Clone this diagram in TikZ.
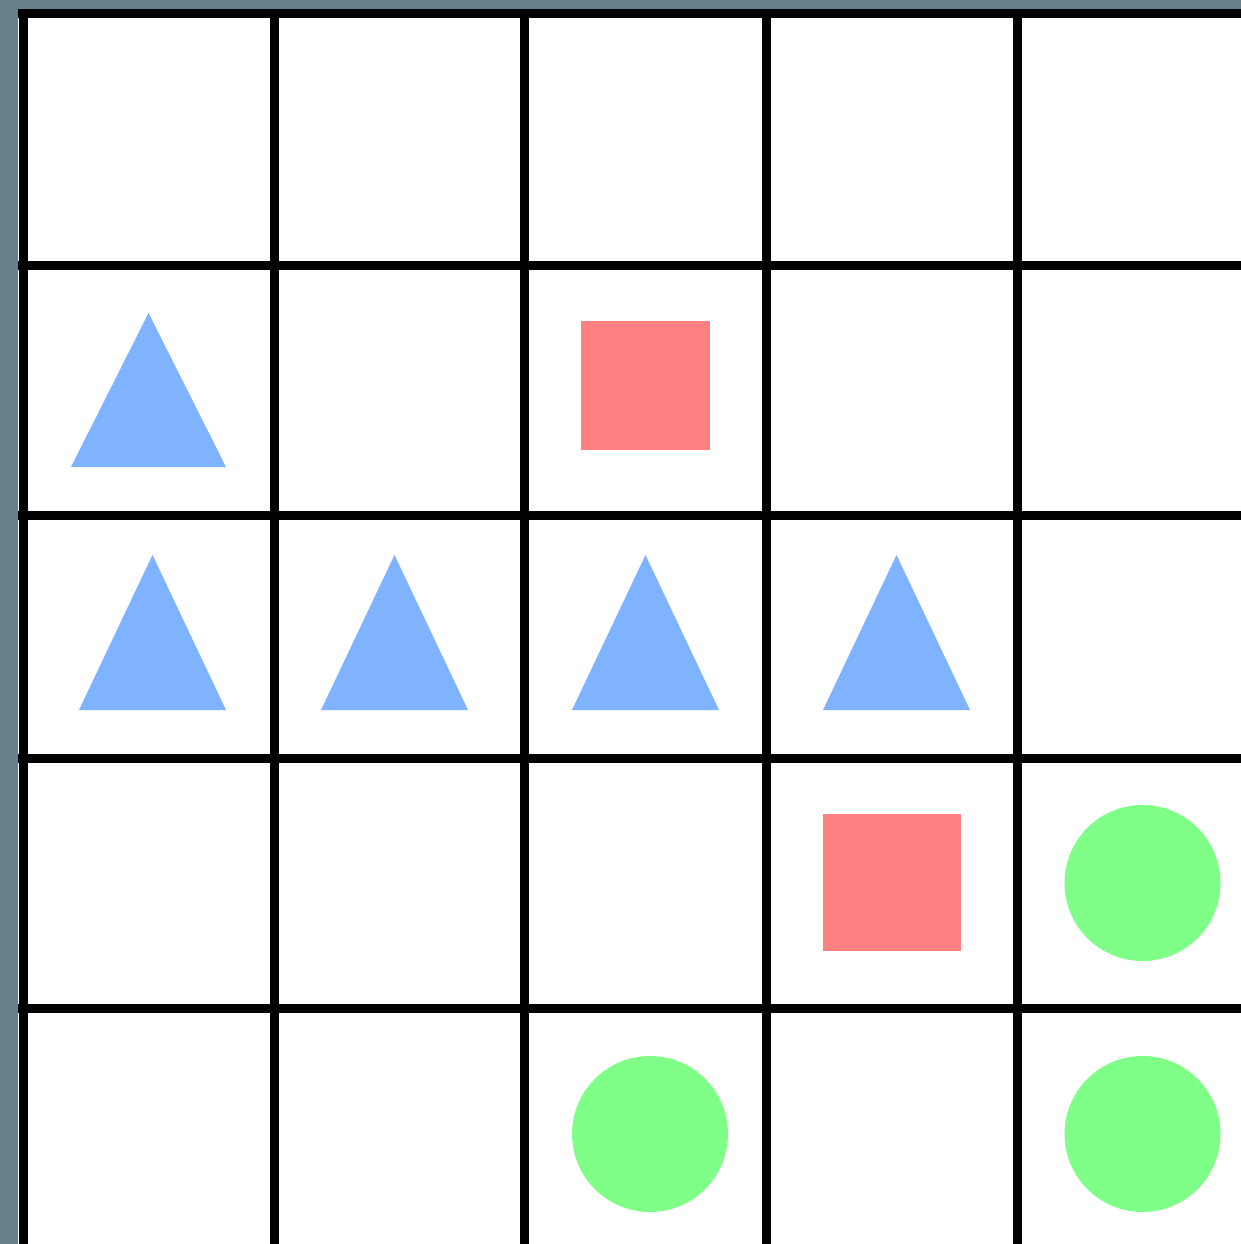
\documentclass[tikz,border=0pt]{standalone}
\usetikzlibrary{calc}
\definecolor{framegray}{HTML}{687F8C}
\definecolor{triblue}{HTML}{80B3FF}
\definecolor{sqred}{HTML}{FF8080}
\definecolor{circgreen}{HTML}{80FF88}
\tikzset{
  gridline/.style={line width=9pt, black},
  tri/.style={fill=triblue, draw=none},
  sq/.style={fill=sqred, draw=none},
  circ/.style={fill=circgreen, draw=none},
}
\begin{document}
\begin{tikzpicture}[x=1pt,y=-1pt]
\useasboundingbox (0,0) rectangle (1241,1244);
\fill[framegray] (0,0) rectangle (1241,1244);
\fill[white] (18,9) rectangle (1241,1244);
% grid
\foreach \x in {23,274,524.5,766.5,1017}
  \draw[gridline] (\x,9) -- (\x,1244);
\foreach \y in {13.5,265,515,758,1008}
  \draw[gridline] (18,\y) -- (1241,\y);
% triangles
\fill[tri] (71,467) -- (148.5,313) -- (226,467) -- cycle;
\fill[tri] (79,710) -- (152.5,555) -- (226,710) -- cycle;
\fill[tri] (321,710) -- (394.5,555) -- (468,710) -- cycle;
\fill[tri] (572,710) -- (645.5,555) -- (719,710) -- cycle;
\fill[tri] (823,710) -- (896.5,555) -- (970,710) -- cycle;
% squares
\fill[sq] (581,321) rectangle (710,450);
\fill[sq] (823,814) rectangle (961,951);
% circles
\fill[circ] (1142.5,883) circle (78);
\fill[circ] (650,1134) circle (78);
\fill[circ] (1142.5,1134) circle (78);
\end{tikzpicture}
\end{document}
